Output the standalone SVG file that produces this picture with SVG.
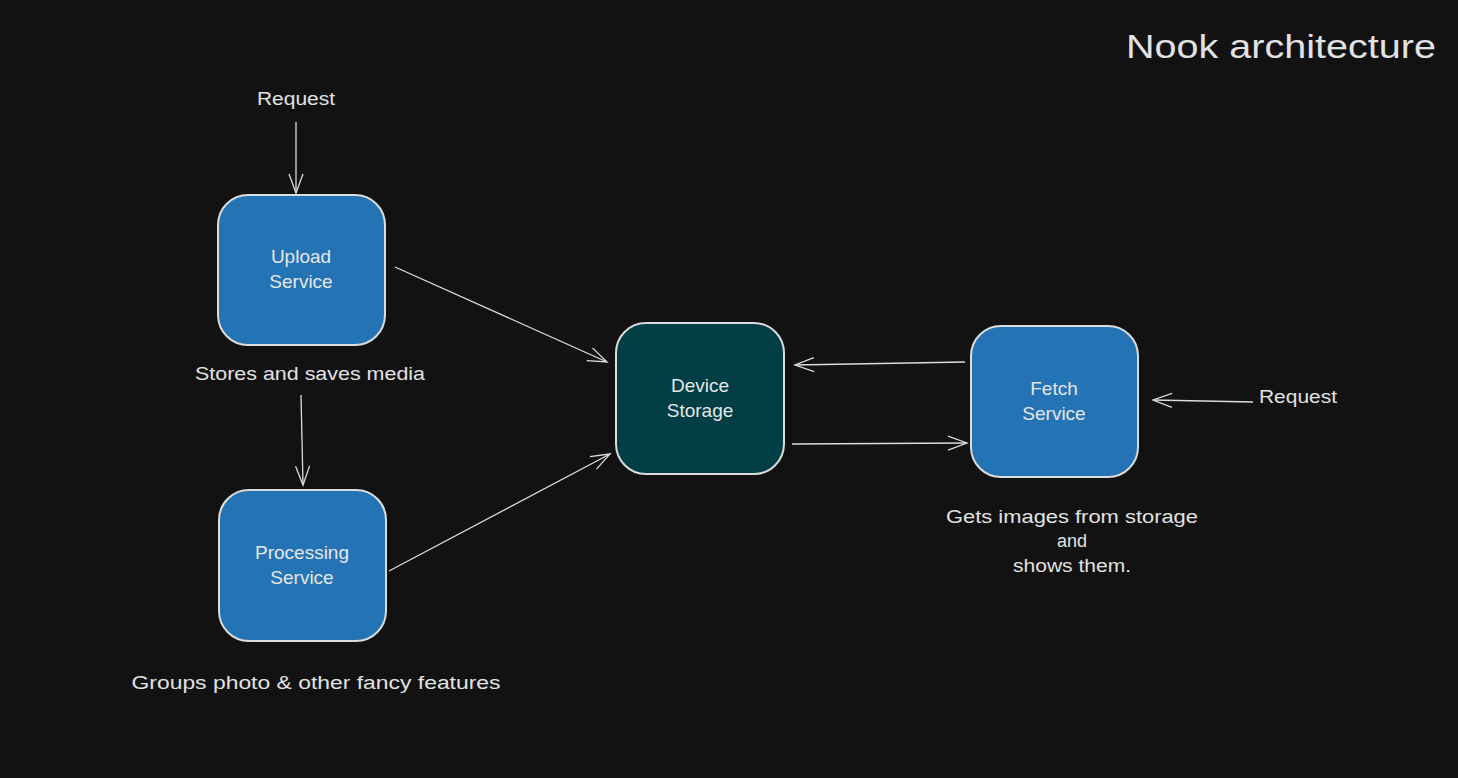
<svg xmlns="http://www.w3.org/2000/svg" width="1458" height="778" viewBox="0 0 1458 778">
<style>
.node rect{stroke:#dcdcdc;stroke-width:2}
.blue{fill:#2473b4}
.teal{fill:#023e45}
text{font-family:"Liberation Sans","DejaVu Sans",sans-serif;fill:#e2e2e2}
.nt{font-size:19px;text-anchor:middle;fill:#e6e6e6}
.lb{font-size:18px;text-anchor:middle}
.conn line{stroke:#dcdcdc;stroke-width:1.3;fill:none;marker-end:url(#ah)}
</style>
<defs>
<marker id="ah" markerUnits="userSpaceOnUse" markerWidth="24" markerHeight="24" refX="20" refY="12" orient="auto" overflow="visible">
<path d="M1,5 L20,12 L1,19" fill="none" stroke="#dcdcdc" stroke-width="1.3"/>
</marker>
</defs>
<rect width="1458" height="778" fill="#121212"/>
<text x="1281" y="58" font-size="34" text-anchor="middle" textLength="310" lengthAdjust="spacingAndGlyphs">Nook architecture</text>
<g class="conn">
<line x1="296" y1="122" x2="296" y2="193"/>
<line x1="395" y1="267" x2="607" y2="362"/>
<line x1="301" y1="395" x2="303" y2="485"/>
<line x1="389" y1="571" x2="610" y2="454"/>
<line x1="965" y1="362" x2="795" y2="365"/>
<line x1="792" y1="444" x2="967" y2="443"/>
<line x1="1253" y1="402" x2="1153" y2="400"/>
</g>
<g id="upload" class="node">
<rect class="blue" x="218" y="195" width="167" height="150" rx="30"/>
<text class="nt" x="301" y="263">Upload</text>
<text class="nt" x="301" y="288">Service</text>
</g>
<g id="processing" class="node">
<rect class="blue" x="219" y="490" width="167" height="151" rx="30"/>
<text class="nt" x="302" y="559">Processing</text>
<text class="nt" x="302" y="584">Service</text>
</g>
<g id="storage" class="node">
<rect class="teal" x="616" y="323" width="168" height="151" rx="30"/>
<text class="nt" x="700" y="392">Device</text>
<text class="nt" x="700" y="417">Storage</text>
</g>
<g id="fetch" class="node">
<rect class="blue" x="971" y="326" width="167" height="151" rx="30"/>
<text class="nt" x="1054" y="395">Fetch</text>
<text class="nt" x="1054" y="420">Service</text>
</g>
<g id="labels">
<text class="lb" x="296" y="105" textLength="78" lengthAdjust="spacingAndGlyphs">Request</text>
<text class="lb" x="1298" y="403" textLength="78" lengthAdjust="spacingAndGlyphs">Request</text>
<text class="lb" x="310" y="380" textLength="230" lengthAdjust="spacingAndGlyphs">Stores and saves media</text>
<text class="lb" x="316" y="689" textLength="369" lengthAdjust="spacingAndGlyphs">Groups photo &amp; other fancy features</text>
<text class="lb" x="1072" y="523" textLength="252" lengthAdjust="spacingAndGlyphs">Gets images from storage</text>
<text class="lb" x="1072" y="547">and</text>
<text class="lb" x="1072" y="572" textLength="118" lengthAdjust="spacingAndGlyphs">shows them.</text>
</g>
</svg>
